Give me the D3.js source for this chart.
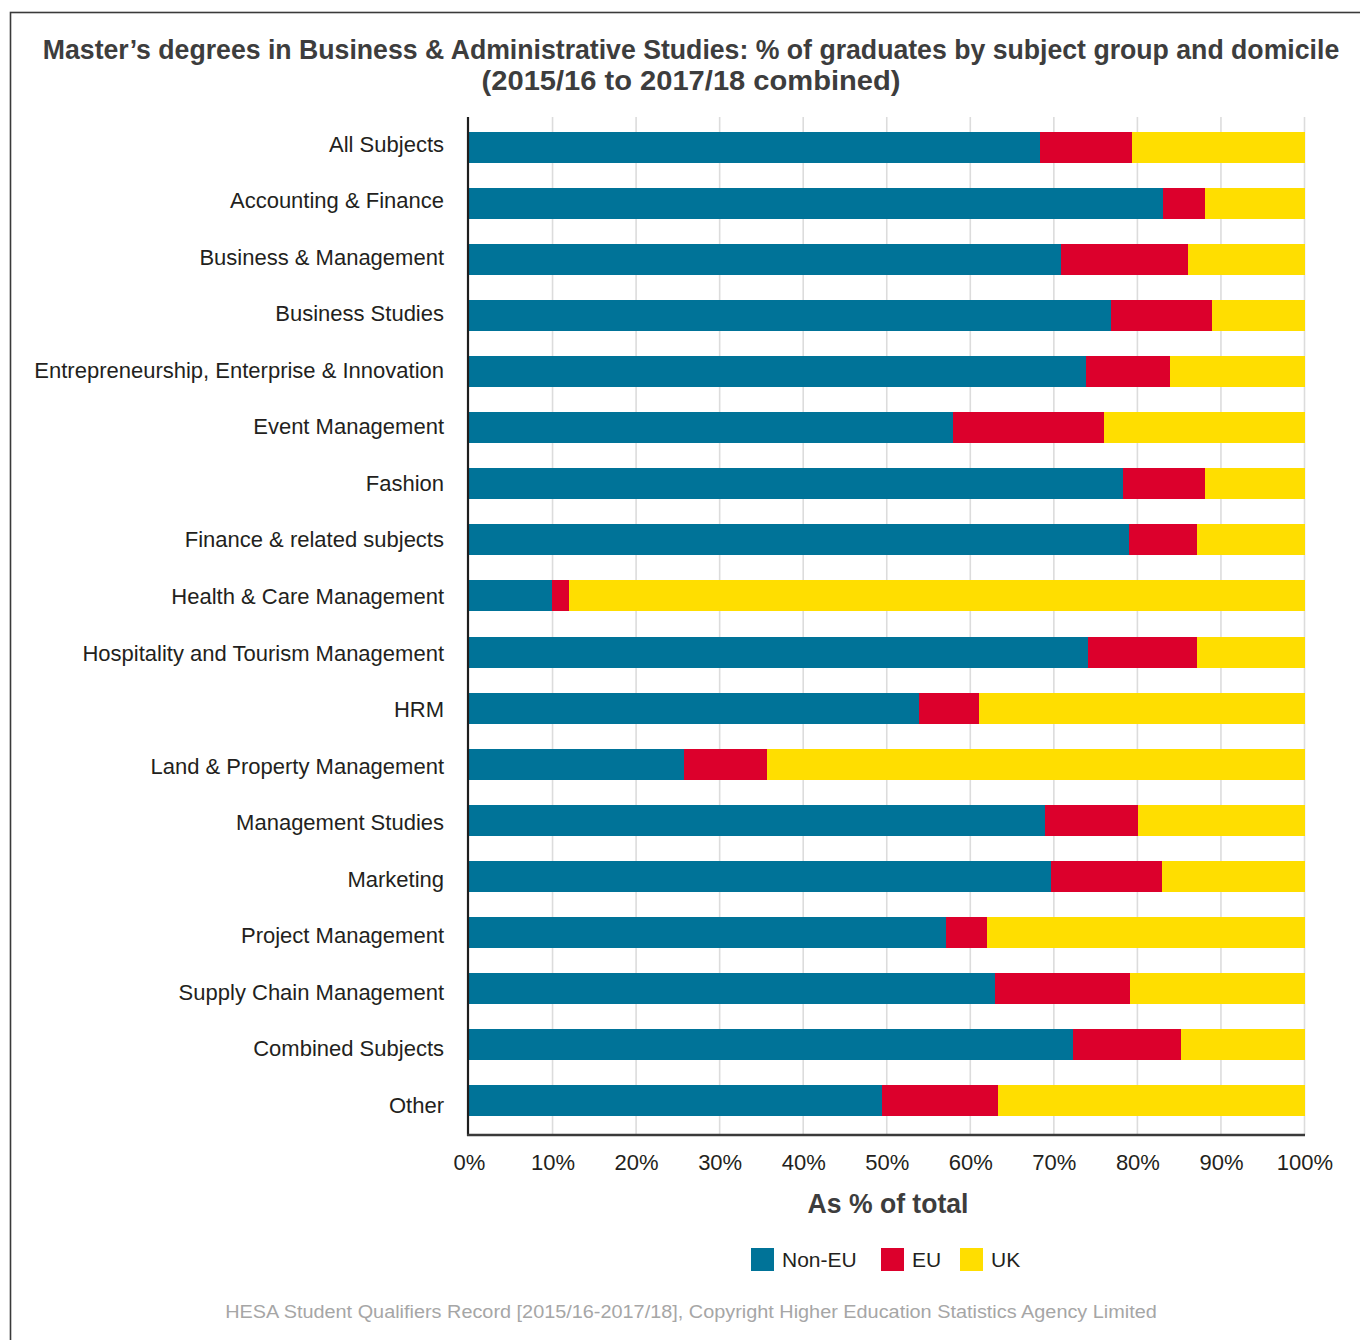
<!DOCTYPE html>
<html>
<head>
<meta charset="utf-8">
<script src="https://cdn.jsdelivr.net/npm/d3@7"></script>
<style>
  html, body { margin: 0; padding: 0; background: #fff; }
  svg { display: block; font-family: "Liberation Sans", Arial, sans-serif; }
</style>
</head>
<body>
<svg id="chart" width="1360" height="1340"></svg>
<script>
// Subject groups, top to bottom
const subjects = [
  "All Subjects",
  "Accounting & Finance",
  "Business & Management",
  "Business Studies",
  "Entrepreneurship, Enterprise & Innovation",
  "Event Management",
  "Fashion",
  "Finance & related subjects",
  "Health & Care Management",
  "Hospitality and Tourism Management",
  "HRM",
  "Land & Property Management",
  "Management Studies",
  "Marketing",
  "Project Management",
  "Supply Chain Management",
  "Combined Subjects",
  "Other"
];

// Share of graduates (%) by domicile
const nonEU = [68.3, 83.1, 70.9, 76.9, 73.8, 57.9, 78.3, 79.0, 9.9, 74.1, 53.9, 25.7, 69.0, 69.7, 57.1, 63.0, 72.3, 49.4];
const eu    = [11.1,  5.0, 15.2, 12.0, 10.1, 18.1,  9.8,  8.1, 2.1, 13.0,  7.1, 10.0, 11.1, 13.3,  4.9, 16.1, 12.9, 13.9];
const uk    = [20.6, 11.9, 13.9, 11.1, 16.1, 24.0, 11.9, 12.9, 88.0, 12.9, 39.0, 64.3, 19.9, 17.0, 38.0, 20.9, 14.8, 36.7];

const seriesNames = ["Non-EU", "EU", "UK"];
const seriesColors = ["#007398", "#dc002c", "#ffde00"];
const tickValues = [0, 10, 20, 30, 40, 50, 60, 70, 80, 90, 100];

const titleLines = [
  "Master\u2019s degrees in Business & Administrative Studies: % of graduates by subject group and domicile",
  "(2015/16 to 2017/18 combined)"
];
const axisTitle = "As % of total";
const sourceText = "HESA Student Qualifiers Record [2015/16-2017/18], Copyright Higher Education Statistics Agency Limited";

// Build a table for d3.stack
const rows = subjects.map((s, i) => ({ subject: s, "Non-EU": nonEU[i], "EU": eu[i], "UK": uk[i] }));

const svg = d3.select("#chart");

// Frame
svg.append("rect")
  .attr("x", 10.5).attr("y", 12.5)
  .attr("width", 1400).attr("height", 1400)
  .attr("fill", "none").attr("stroke", "#3a3a3a").attr("stroke-width", 1.6);

const x = d3.scaleLinear().domain([0, 100]).range([469, 1304.5]);
const y = d3.scaleBand().domain(subjects).range([114, 1134])
  .paddingInner(0.447).paddingOuter(0.3185);
// label rows sit on their own slightly wider spacing
const yLabel = d3.scalePoint().domain(subjects).range([143.5, 1105]);
const color = d3.scaleOrdinal().domain(seriesNames).range(seriesColors);

const plotTop = 117, plotBottom = 1135;

// Squeeze a text horizontally to a given width, keeping its centre
function condense(sel, cx, cy, width) {
  const natural = sel.node().getComputedTextLength();
  sel.attr("x", 0).attr("y", 0)
    .attr("transform", `translate(${cx},${cy}) scale(${width / natural},1)`);
}

// Title (condensed bold)
const title = svg.append("g").attr("fill", "#3d3d3d")
  .attr("font-weight", "bold").attr("font-size", 28).attr("text-anchor", "middle");
const titleSpecs = [{ y: 59, w: 1297 }, { y: 90, w: 419 }];
titleLines.forEach((t, i) => {
  const tx = title.append("text").text(t);
  condense(tx, 691, titleSpecs[i].y, titleSpecs[i].w);
});

// Vertical gridlines
svg.append("g")
  .selectAll("line")
  .data(tickValues.filter(d => d > 0))
  .join("line")
  .attr("x1", d => x(d)).attr("x2", d => x(d))
  .attr("y1", plotTop).attr("y2", plotBottom)
  .attr("stroke", "#dcdcdc").attr("stroke-width", 1.6);

// Stacked bars
const stacked = d3.stack().keys(seriesNames)(rows);
svg.append("g")
  .selectAll("g")
  .data(stacked)
  .join("g")
  .attr("fill", d => color(d.key))
  .selectAll("rect")
  .data(d => d)
  .join("rect")
  .attr("x", d => x(d[0]))
  .attr("width", d => x(d[1]) - x(d[0]))
  .attr("y", d => y(d.data.subject))
  .attr("height", y.bandwidth())
  .attr("shape-rendering", "crispEdges");

// Category labels
svg.append("g")
  .selectAll("text")
  .data(subjects)
  .join("text")
  .attr("x", 444)
  .attr("y", d => yLabel(d) + 8)
  .attr("text-anchor", "end")
  .attr("font-size", 22)
  .attr("fill", "#231f20")
  .text(d => d);

// X axis (tick labels only; the domain line is drawn below)
const xAxis = svg.append("g")
  .attr("transform", `translate(0,${plotBottom})`)
  .call(d3.axisBottom(x).tickValues(tickValues).tickFormat(d => d + "%").tickSize(0).tickPadding(19));
xAxis.select(".domain").remove();
xAxis.selectAll("text")
  .attr("font-family", "Liberation Sans, Arial, sans-serif")
  .attr("font-size", 22)
  .attr("fill", "#231f20");

// Axis lines
svg.append("line")
  .attr("x1", 468).attr("x2", 468)
  .attr("y1", plotTop).attr("y2", plotBottom + 1)
  .attr("stroke", "#1e1e1e").attr("stroke-width", 2.2);
svg.append("line")
  .attr("x1", 467).attr("x2", 1305)
  .attr("y1", plotBottom).attr("y2", plotBottom)
  .attr("stroke", "#3a3a3a").attr("stroke-width", 2.4);

// Axis title
const axt = svg.append("text")
  .attr("text-anchor", "middle")
  .attr("font-weight", "bold").attr("font-size", 27)
  .attr("fill", "#3d3d3d")
  .text(axisTitle);
condense(axt, 888, 1213, 161);

// Legend
const legendX = [751, 881, 960];
const legend = svg.append("g");
seriesNames.forEach((name, i) => {
  legend.append("rect")
    .attr("x", legendX[i]).attr("y", 1248)
    .attr("width", 23).attr("height", 23)
    .attr("fill", color(name));
  legend.append("text")
    .attr("x", legendX[i] + 31).attr("y", 1267)
    .attr("font-size", 21)
    .attr("fill", "#231f20")
    .text(name);
});

// Source note
const src = svg.append("text")
  .attr("text-anchor", "middle")
  .attr("font-size", 18.5)
  .attr("fill", "#a6a6a6")
  .text(sourceText);
condense(src, 691, 1318, 932);
</script>
</body>
</html>
